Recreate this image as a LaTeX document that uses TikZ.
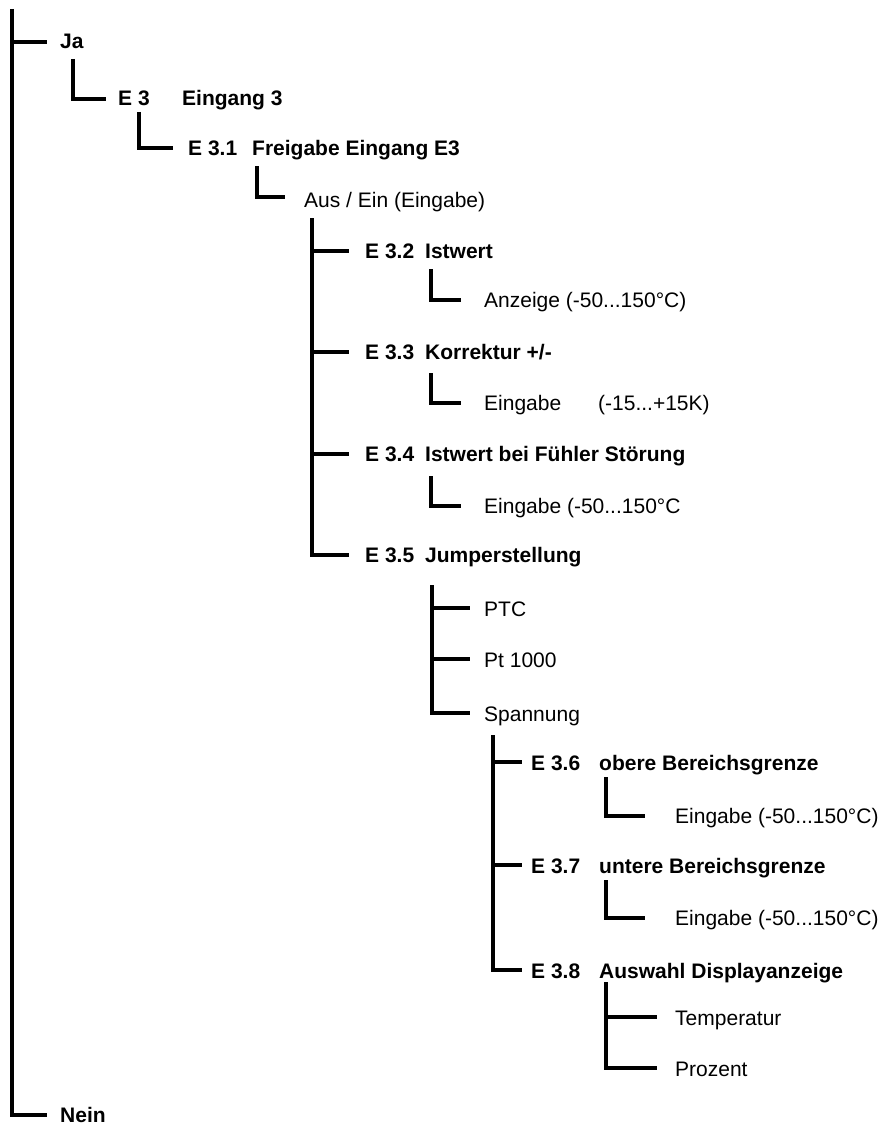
\documentclass[tikz,border=0pt]{standalone}
\usepackage{fontspec}
\setmainfont{Liberation Sans}
% number column of a heading: fixed width box, then the title
\newcommand\labnum[2]{\makebox[#1pt][l]{#2}}
\begin{document}
\begin{tikzpicture}[x=1pt,y=-1pt,
  wire/.style={line width=3.3pt, line join=miter},
  lbl/.style={anchor=base west, inner sep=0pt, font=\fontsize{21}{25}\selectfont},
  head/.style={lbl, font=\fontsize{21}{25}\selectfont\bfseries}]
\useasboundingbox (0,0) rectangle (881,1129);

% --- root: Ja / Nein
\coordinate (root-t) at (12,9);
\coordinate (ja-in) at (47,42);
\coordinate (nein-in) at (47,1115);
\node[head] (ja) at (60,49) {Ja};
\node[head] (nein) at (60,1122) {Nein};
\draw[wire] (root-t) |- (nein-in);
\draw[wire] (root-t |- ja-in) -- (ja-in);

% --- E 3
\coordinate (ja-t) at (73,59);
\coordinate (e3-in) at (106,99);
\node[head] (e3) at (118,106) {\labnum{64}{E 3}Eingang 3};
\draw[wire] (ja-t) |- (e3-in);

% --- E 3.1
\coordinate (e3-t) at (139,112);
\coordinate (e31-in) at (173,148);
\node[head] (e31) at (188,155) {\labnum{64}{E 3.1}Freigabe Eingang E3};
\draw[wire] (e3-t) |- (e31-in);

% --- Aus / Ein
\coordinate (e31-t) at (257,166);
\coordinate (aus-in) at (285,197);
\node[lbl] (aus) at (304,207) {Aus / Ein (Eingabe)};
\draw[wire] (e31-t) |- (aus-in);

% --- E 3.2 ... E 3.5
\coordinate (aus-t) at (312,218);
\coordinate (e32-in) at (349,251);
\coordinate (e33-in) at (349,352);
\coordinate (e34-in) at (349,454);
\coordinate (e35-in) at (349,555);
\node[head] (e32) at (365,258) {\labnum{60}{E 3.2}Istwert};
\node[head] (e33) at (365,359) {\labnum{60}{E 3.3}Korrektur +/-};
\node[head] (e34) at (365,461) {\labnum{60}{E 3.4}Istwert bei Fühler Störung};
\node[head] (e35) at (365,562) {\labnum{60}{E 3.5}Jumperstellung};
\draw[wire] (aus-t) |- (e35-in);
\draw[wire] (aus-t |- e32-in) -- (e32-in);
\draw[wire] (aus-t |- e33-in) -- (e33-in);
\draw[wire] (aus-t |- e34-in) -- (e34-in);

% --- value entries of E 3.2 ... E 3.4
\coordinate (e32-t) at (431,269);
\coordinate (v32-in) at (461,300);
\node[lbl] (v32) at (484,307) {Anzeige (-50...150°C)};
\draw[wire] (e32-t) |- (v32-in);

\coordinate (e33-t) at (431,373);
\coordinate (v33-in) at (461,403);
\node[lbl] (v33) at (484,410) {\labnum{114}{Eingabe}(-15...+15K)};
\draw[wire] (e33-t) |- (v33-in);

\coordinate (e34-t) at (431,476);
\coordinate (v34-in) at (461,506);
\node[lbl] (v34) at (484,513) {Eingabe (-50...150°C};
\draw[wire] (e34-t) |- (v34-in);

% --- jumper options
\coordinate (e35-t) at (432,585);
\coordinate (ptc-in) at (470,608);
\coordinate (pt-in) at (470,659);
\coordinate (sp-in) at (470,713);
\node[lbl] (ptc) at (484,616) {PTC};
\node[lbl] (pt) at (484,667) {Pt 1000};
\node[lbl] (sp) at (484,721) {Spannung};
\draw[wire] (e35-t) |- (sp-in);
\draw[wire] (e35-t |- ptc-in) -- (ptc-in);
\draw[wire] (e35-t |- pt-in) -- (pt-in);

% --- E 3.6 ... E 3.8
\coordinate (sp-t) at (493,735);
\coordinate (e36-in) at (522,762);
\coordinate (e37-in) at (522,865);
\coordinate (e38-in) at (522,970);
\node[head] (e36) at (531,770) {\labnum{68}{E 3.6}obere Bereichsgrenze};
\node[head] (e37) at (531,873) {\labnum{68}{E 3.7}untere Bereichsgrenze};
\node[head] (e38) at (531,978) {\labnum{68}{E 3.8}Auswahl Displayanzeige};
\draw[wire] (sp-t) |- (e38-in);
\draw[wire] (sp-t |- e36-in) -- (e36-in);
\draw[wire] (sp-t |- e37-in) -- (e37-in);

\coordinate (e36-t) at (606,777);
\coordinate (v36-in) at (645,816);
\node[lbl] (v36) at (675,823) {Eingabe (-50...150°C)};
\draw[wire] (e36-t) |- (v36-in);

\coordinate (e37-t) at (606,880);
\coordinate (v37-in) at (645,918);
\node[lbl] (v37) at (675,925) {Eingabe (-50...150°C)};
\draw[wire] (e37-t) |- (v37-in);

\coordinate (e38-t) at (606,982);
\coordinate (tmp-in) at (657,1017);
\coordinate (pro-in) at (657,1068);
\node[lbl] (tmp) at (675,1025) {Temperatur};
\node[lbl] (pro) at (675,1076) {Prozent};
\draw[wire] (e38-t) |- (pro-in);
\draw[wire] (e38-t |- tmp-in) -- (tmp-in);
\end{tikzpicture}
\end{document}
